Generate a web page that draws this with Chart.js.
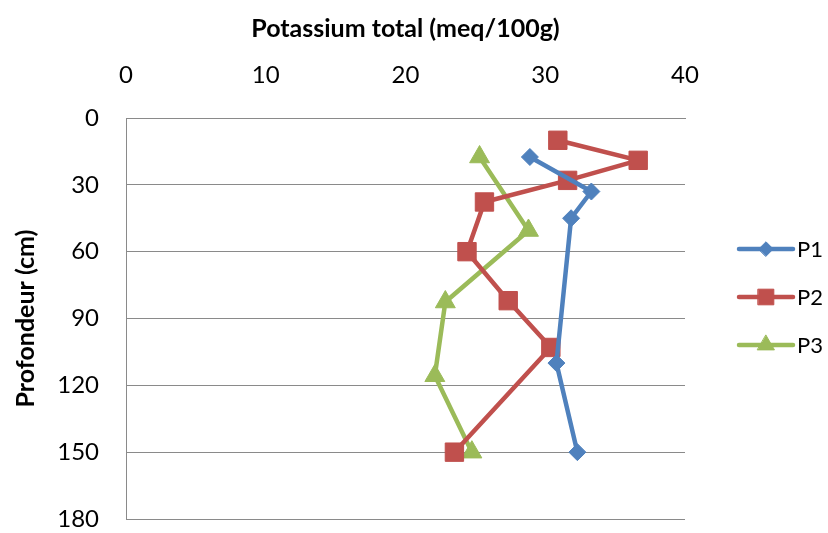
<!DOCTYPE html>
<html>
<head>
<meta charset="utf-8">
<script src="https://cdn.jsdelivr.net/npm/chart.js@4.4.1/dist/chart.umd.min.js"></script>
<style>
  html, body { margin: 0; padding: 0; background: #ffffff; }
  #wrap { width: 828px; height: 533px; }
</style>
</head>
<body>
<div id="wrap"><canvas id="chart" width="828" height="533"></canvas></div>
<script>
// Total potassium (meq/100g) against depth (cm) for three soil profiles
const seriesNames = ['P1', 'P2', 'P3'];

const p1Potassium = [28.9, 33.3, 31.85, 30.8, 32.3];
const p1Depth     = [17.5, 33, 45, 110, 150];

const p2Potassium = [30.9, 36.65, 31.6, 25.65, 24.4, 27.35, 30.4, 23.5];
const p2Depth     = [10, 19, 28, 37.7, 60, 82, 103, 150];

const p3Potassium = [25.3, 28.8, 22.85, 22.1, 24.75];
const p3Depth     = [17.5, 50.5, 82.6, 115.7, 150];

const xTickValues = [0, 10, 20, 30, 40];
const yTickValues = [0, 30, 60, 90, 120, 150, 180];

const xTitle = 'Potassium total (meq/100g)';
const yTitle = 'Profondeur (cm)';

const FONT = 'Lato, "Open Sans", sans-serif';
const GRID = '#8a8a8a';

function pairs(xs, ys) {
  return xs.map((x, i) => ({ x: x, y: ys[i] }));
}

// Axes keep a fixed frame: no extra room reserved for end labels
function noLabelPadding(s) {
  s.paddingLeft = 0; s.paddingRight = 0; s.paddingTop = 0; s.paddingBottom = 0;
  s.getPadding = () => ({ left: 0, top: 0, right: 0, bottom: 0 });
}

const styles = [
  { color: '#4F81BD', pointStyle: 'rectRot',  radius: 8.5 },
  { color: '#C0504D', pointStyle: 'rect',     radius: 13 },
  { color: '#9BBB59', pointStyle: 'triangle', radius: 11.5 }
];
const seriesData = [
  pairs(p1Potassium, p1Depth),
  pairs(p2Potassium, p2Depth),
  pairs(p3Potassium, p3Depth)
];

const datasets = seriesNames.map((name, i) => ({
  label: name,
  data: seriesData[i],
  showLine: true,
  tension: 0,
  borderColor: styles[i].color,
  backgroundColor: styles[i].color,
  borderWidth: 4.5,
  pointStyle: styles[i].pointStyle,
  pointRadius: styles[i].radius,
  pointHoverRadius: styles[i].radius,
  pointBorderWidth: 1,
  pointBackgroundColor: styles[i].color,
  pointBorderColor: styles[i].color
}));

// Legend on the right: short line with the series marker, then the name
const sideLegend = {
  id: 'sideLegend',
  afterDraw(chart) {
    const ctx = chart.ctx;
    const x0 = chart.chartArea.right + 54;
    const x1 = x0 + 54;
    chart.data.datasets.forEach((ds, i) => {
      const y = 249 + i * 48;
      ctx.save();
      ctx.strokeStyle = ds.borderColor;
      ctx.lineWidth = 4.5;
      ctx.lineCap = 'round';
      ctx.beginPath();
      ctx.moveTo(x0, y);
      ctx.lineTo(x1, y);
      ctx.stroke();
      ctx.fillStyle = ds.pointBackgroundColor;
      ctx.strokeStyle = ds.pointBorderColor;
      ctx.lineWidth = 1;
      const r = ds.pointRadius * 0.85;
      Chart.helpers.drawPoint(ctx, { pointStyle: ds.pointStyle, radius: r, borderWidth: 1, rotation: 0 }, (x0 + x1) / 2, y);
      ctx.fillStyle = '#000000';
      ctx.font = '22px ' + FONT;
      ctx.textAlign = 'left';
      ctx.textBaseline = 'middle';
      ctx.fillText(ds.label, x1 + 4, y + 1);
      ctx.restore();
    });
  }
};

new Chart(document.getElementById('chart'), {
  type: 'scatter',
  data: { datasets: datasets },
  plugins: [sideLegend],
  options: {
    responsive: false,
    devicePixelRatio: 1,
    animation: false,
    layout: { padding: { left: 0, right: 143, top: 0, bottom: 11 } },
    plugins: {
      legend: { display: false },
      tooltip: { enabled: false }
    },
    scales: {
      x: {
        type: 'linear',
        position: 'top',
        min: 0,
        max: 40,
        afterBuildTicks: s => { s.ticks = xTickValues.map(v => ({ value: v })); },
        grid: { display: false, drawTicks: false },
        border: { display: true, color: GRID, width: 1 },
        ticks: {
          color: '#000000',
          font: { family: FONT, size: 24 },
          padding: 28,
          maxRotation: 0
        },
        title: {
          display: true,
          text: xTitle,
          color: '#000000',
          font: { family: FONT, size: 25, weight: 'bold' },
          padding: { top: 14, bottom: 0 }
        },
        afterFit: s => { s.height = 118; noLabelPadding(s); }
      },
      y: {
        type: 'linear',
        reverse: true,
        min: 0,
        max: 180,
        afterBuildTicks: s => { s.ticks = yTickValues.map(v => ({ value: v })); },
        grid: { color: GRID, lineWidth: 1, drawTicks: false },
        border: { display: true, color: GRID, width: 1 },
        ticks: {
          color: '#000000',
          font: { family: FONT, size: 24 },
          padding: 27
        },
        title: {
          display: true,
          text: yTitle,
          color: '#000000',
          font: { family: FONT, size: 25, weight: 'bold' },
          padding: { top: 11, bottom: 0 }
        },
        afterFit: s => { s.width = 126; noLabelPadding(s); }
      }
    }
  }
});
</script>
</body>
</html>
